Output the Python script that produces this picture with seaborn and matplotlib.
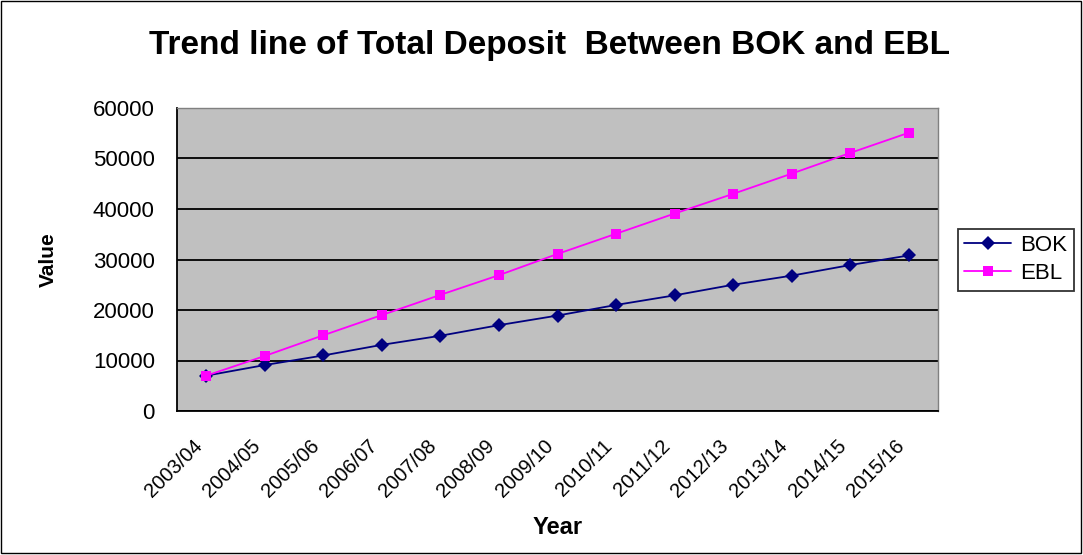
"""
Trend line of total deposit: BOK vs EBL
"""

import matplotlib
matplotlib.use("Agg")
import matplotlib.pyplot as plt
import matplotlib.transforms as mtransforms
import seaborn as sns
import pandas as pd
from matplotlib.patches import Rectangle

years = ['2003/04', '2004/05', '2005/06', '2006/07', '2007/08', '2008/09', '2009/10',
         '2010/11', '2011/12', '2012/13', '2013/14', '2014/15', '2015/16']
bok = [7000, 9100, 11000, 13100, 14900, 17000, 18900, 21000, 22900, 25000, 26800, 28900, 30800]
ebl = [7000, 10900, 15000, 19000, 23000, 26900, 31100, 35100, 39100, 43000, 47000, 51100, 55100]

df = pd.DataFrame({
    'Year': years * 2,
    'Value': bok + ebl,
    'Bank': ['BOK'] * len(years) + ['EBL'] * len(years),
})

sns.set_style('white')
plt.rcParams['font.family'] = ['Liberation Sans', 'DejaVu Sans']
plt.rcParams['text.color'] = 'black'
plt.rcParams['axes.labelcolor'] = 'black'
plt.rcParams['xtick.color'] = 'black'
plt.rcParams['ytick.color'] = 'black'

fig = plt.figure(figsize=(10.83, 5.55), dpi=100)
ax = fig.add_axes([177 / 1083, 1 - 411 / 555, (938 - 177) / 1083, (411 - 108) / 555])
ax.set_facecolor('#C0C0C0')

sns.lineplot(data=df, x='Year', y='Value', hue='Bank', style='Bank',
             palette={'BOK': '#000080', 'EBL': '#FF00FF'},
             markers={'BOK': 'D', 'EBL': 's'}, dashes=False,
             markersize=7.5, linewidth=1.3, markeredgewidth=0, ax=ax)

ax.set_xlim(-0.5, len(years) - 0.5)
ax.set_ylim(0, 60000)
ax.set_yticks(range(0, 60001, 10000))
ax.yaxis.grid(True, color='black', linewidth=1.3)
ax.set_axisbelow(True)

# category ticks sit between categories, labels at centres
ax.set_xticks([i - 0.5 for i in range(len(years) + 1)])
ax.set_xticklabels([])
ax.set_xticks(range(len(years)), minor=True)
ax.set_xticklabels(years, minor=True, rotation=45, ha='right', va='top',
                   rotation_mode='anchor', fontsize=14.5)
ax.tick_params(axis='x', which='major', length=6, width=1, direction='out')
ax.tick_params(axis='x', which='minor', length=0, pad=18)
ax.tick_params(axis='y', length=6, width=1, direction='out', labelsize=16, pad=10)

# shift the slanted labels a little left, like the original
shift = mtransforms.ScaledTranslation(-0.14, 0, fig.dpi_scale_trans)
for lbl in ax.get_xticklabels(minor=True):
    lbl.set_transform(lbl.get_transform() + shift)

for side in ['left', 'bottom']:
    ax.spines[side].set_color('black')
    ax.spines[side].set_linewidth(1.3)
for side in ['top', 'right']:
    ax.spines[side].set_color('#808080')
    ax.spines[side].set_linewidth(1)

ax.set_xlabel('Year', fontsize=17, fontweight='bold')
ax.xaxis.set_label_coords(0.5006, -0.345)
ax.set_ylabel('Value', fontsize=15, fontweight='bold')
ax.yaxis.set_label_coords(-0.156, 0.5)
fig.suptitle('Trend line of Total Deposit  Between BOK and EBL', x=0.507, y=0.918,
             va='center', fontsize=24, fontweight='bold')

leg = ax.legend(loc='center left', bbox_to_anchor=(1.026, 0.5), borderaxespad=0,
                fontsize=16, frameon=True, fancybox=False, edgecolor='black',
                borderpad=0.3, handlelength=2.1, handletextpad=0.4, labelspacing=0.3)
leg.get_frame().set_linewidth(1.3)

fig.add_artist(Rectangle((0.001, 0.003), 0.997, 0.995, transform=fig.transFigure,
                         fill=False, edgecolor='black', linewidth=1))

fig.savefig('out.png', dpi=100)
